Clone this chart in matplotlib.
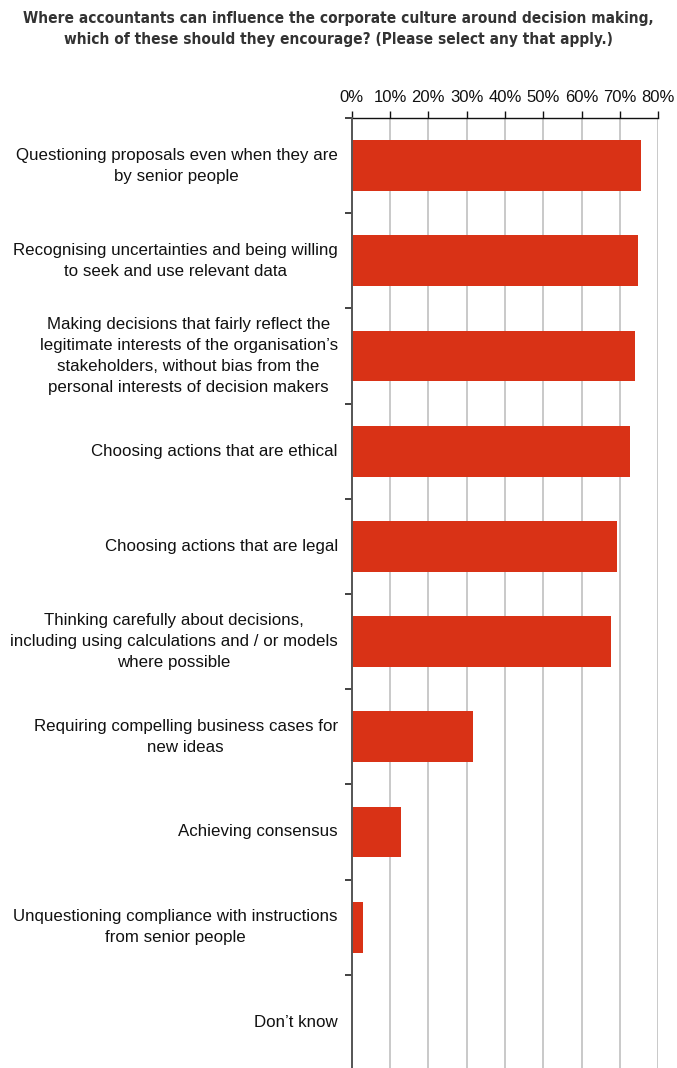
import matplotlib
matplotlib.use("Agg")
import matplotlib.pyplot as plt
from matplotlib.ticker import FixedLocator, NullFormatter

categories = [
    "Questioning proposals even when they are\nby senior people",
    "Recognising uncertainties and being willing\nto seek and use relevant data",
    "Making decisions that fairly reflect the\nlegitimate interests of the organisation\u2019s\n"
    "stakeholders, without bias from the\npersonal interests of decision makers",
    "Choosing actions that are ethical",
    "Choosing actions that are legal",
    "Thinking carefully about decisions,\nincluding using calculations and / or models\nwhere possible",
    "Requiring compelling business cases for\nnew ideas",
    "Achieving consensus",
    "Unquestioning compliance with instructions\nfrom senior people",
    "Don\u2019t know",
]
shares = [75.5, 74.7, 73.9, 72.6, 69.2, 67.6, 31.6, 12.9, 3.0, 0.0]
x_ticks = [0, 10, 20, 30, 40, 50, 60, 70, 80]
x_tick_labels = [f"{t}%" for t in x_ticks]

title = ("Where accountants can influence the corporate culture around decision making,\n"
         "which of these should they encourage? (Please select any that apply.)")

RED = "#D93216"
GRID = "#C9C9C9"
SPINE = "#555555"
LABEL_FONT = ["Liberation Sans", "DejaVu Sans"]

W, H = 677, 1068
fig = plt.figure(figsize=(W / 100, H / 100), dpi=100)
fig.patch.set_facecolor("white")

left, right = 351.7 / W, 658.3 / W
top, bottom = 118 / H, 1070 / H
ax = fig.add_axes([left, 1 - bottom, right - left, bottom - top])

ys = list(range(len(categories)))
ax.barh(ys[:len(shares)], shares, height=0.535, color=RED, zorder=3)

ax.set_xlim(0, 80)
ax.set_ylim(len(categories) - 0.5, -0.5)

# x axis along the top, percent labels
ax.xaxis.tick_top()
ax.set_xticks(x_ticks)
ax.set_xticklabels(x_tick_labels, family=LABEL_FONT, fontsize=12, color="#111111")
ax.tick_params(axis="x", direction="out", length=5, width=1, color="#111111", pad=4)
ax.xaxis.grid(True, color=GRID, linewidth=1.4, zorder=0)

# y ticks sit between categories, labels drawn separately
ax.yaxis.set_major_locator(FixedLocator([i - 0.5 for i in range(len(categories) + 1)]))
ax.yaxis.set_major_formatter(NullFormatter())
ax.tick_params(axis="y", direction="out", length=5, width=1.3, color="#333333")

for side in ("right", "bottom"):
    ax.spines[side].set_visible(False)
ax.spines["top"].set_color("#111111")
ax.spines["top"].set_linewidth(1)
ax.spines["left"].set_color(SPINE)
ax.spines["left"].set_linewidth(1.4)
ax.spines["left"].set_zorder(4)

for y, label in zip(ys, categories):
    ax.annotate(label, xy=(0, y), xycoords="data", xytext=(-14, 0),
                textcoords="offset pixels", ha="right", va="center",
                multialignment="center", family=LABEL_FONT, fontsize=12.2,
                color="#111111", linespacing=1.5)

fig.text(0.5, 1 - 29 / H, title, ha="center", va="center", fontsize=11.1,
         fontweight="bold", family="DejaVu Sans", stretch="condensed",
         color="#333333", linespacing=1.5)

fig.savefig("out.png", dpi=100, facecolor="white")
